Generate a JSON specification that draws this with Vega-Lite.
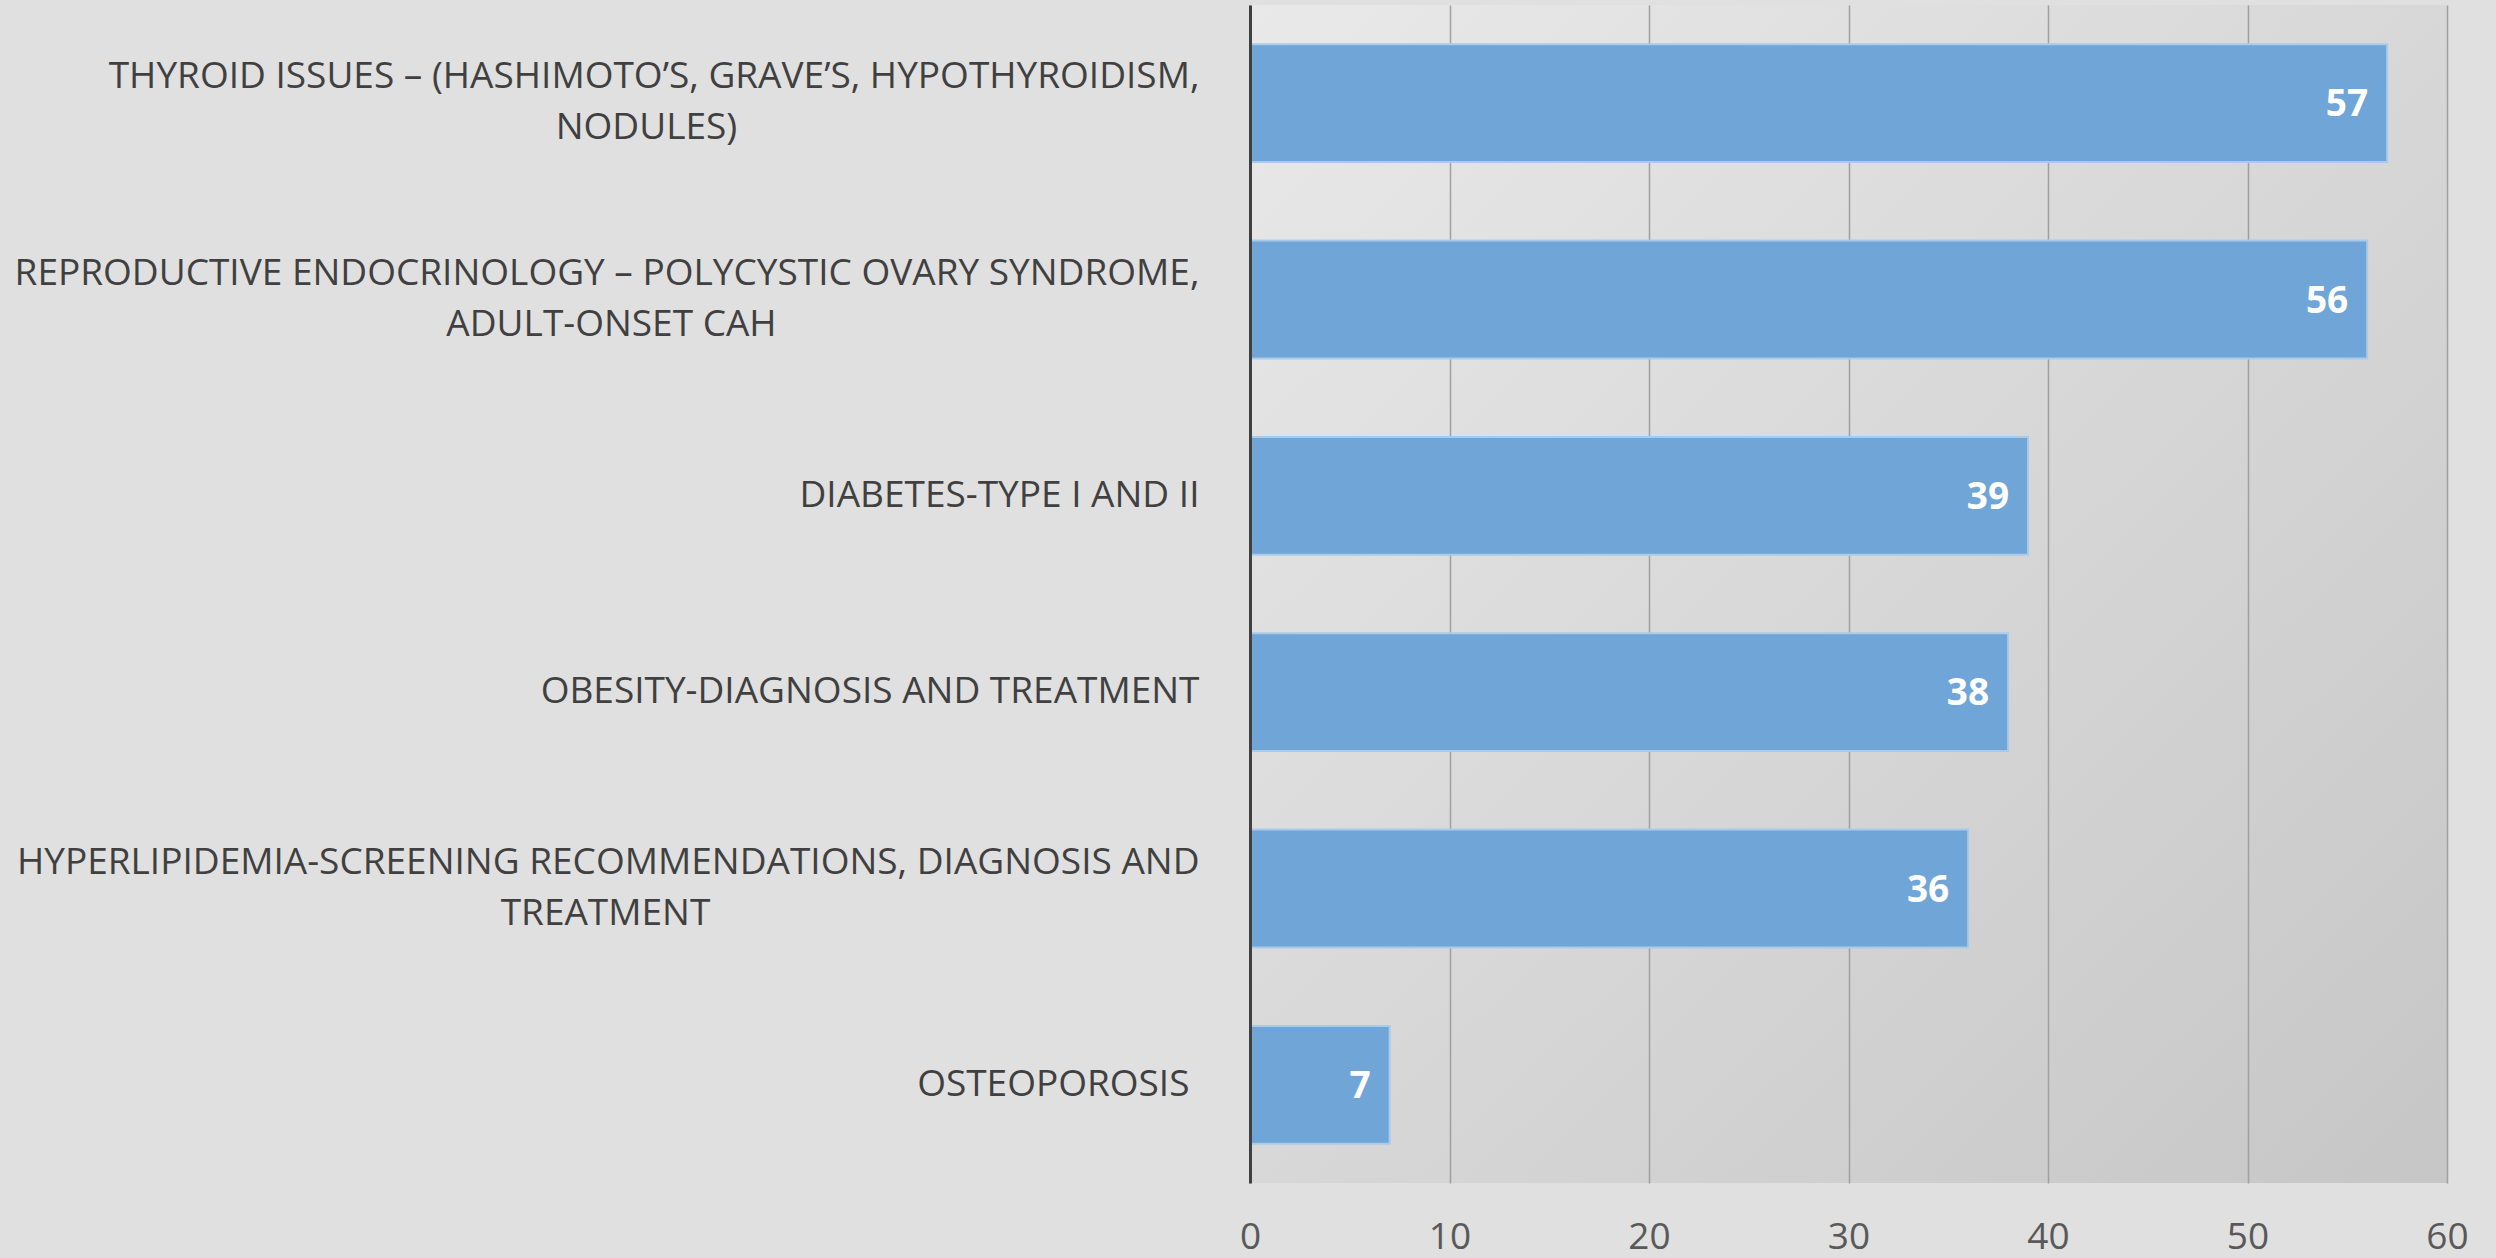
{
  "$schema": "https://vega.github.io/schema/vega-lite/v6.json",
  "autosize": "none",
  "width": 1197,
  "height": 1178,
  "padding": {"left": 1250, "top": 5, "right": 49, "bottom": 75},
  "background": "#e0e0e0",
  "config": {
    "view": {"stroke": null, "fill": {"gradient": "linear", "x1": 0, "y1": 0, "x2": 1, "y2": 1, "stops": [{"offset": 0, "color": "#e9e9e9"}, {"offset": 1, "color": "#c6c6c6"}]}},
    "font": "Open Sans"
  },
  "data": {
    "values": [
      {"topic": "THYROID ISSUES – (HASHIMOTO’S, GRAVE’S, HYPOTHYROIDISM,|NODULES)", "count": 57},
      {"topic": "REPRODUCTIVE ENDOCRINOLOGY – POLYCYSTIC OVARY SYNDROME,|ADULT-ONSET CAH", "count": 56},
      {"topic": "DIABETES-TYPE I AND II", "count": 39},
      {"topic": "OBESITY-DIAGNOSIS AND TREATMENT", "count": 38},
      {"topic": "HYPERLIPIDEMIA-SCREENING RECOMMENDATIONS, DIAGNOSIS AND|TREATMENT", "count": 36},
      {"topic": "OSTEOPOROSIS", "count": 7}
    ]
  },
  "layer": [
    {
      "mark": {"type": "bar", "fill": "#6fa5d7", "stroke": "#a9cbeb", "strokeWidth": 2},
      "encoding": {
        "y": {
          "field": "topic", "type": "nominal", "sort": null,
          "scale": {"paddingInner": 0.4, "paddingOuter": 0.2},
          "axis": {
            "title": null, "orient": "left", "zindex": 1,
            "domain": true, "domainColor": "#404040", "domainWidth": 3,
            "ticks": false, "tickSize": 0, "grid": false,
            "labelExpr": "split(datum.label, '|')[0]",
            "labelFont": "Open Sans", "labelFontSize": 37, "labelColor": "#404040",
            "labelAlign": "right", "labelBaseline": "middle", "labelLimit": 0,
            "labelPadding": {"condition": {"test": "datum.value == 'OSTEOPOROSIS'", "value": 61}, "value": 51},
            "labelOffset": {"condition": {"test": "indexof(datum.value, '|') >= 0", "value": -26}, "value": 0}
          }
        },
        "x": {
          "field": "count", "type": "quantitative",
          "scale": {"domain": [0, 60], "nice": false},
          "axis": {
            "title": null, "values": [0, 10, 20, 30, 40, 50, 60], "zindex": 0,
            "domain": false, "ticks": false, "tickSize": 0, "labelFlush": false,
            "grid": true, "gridColor": "#a0a0a0", "gridWidth": 1.5,
            "labelFont": "Open Sans", "labelFontSize": 37, "labelColor": "#595959",
            "labelPadding": 36
          }
        }
      }
    },
    {
      "mark": {"type": "text", "align": "right", "baseline": "middle", "dx": -19, "dy": 2, "fontSize": 37, "fontWeight": "bold", "font": "Open Sans", "color": "#ffffff"},
      "encoding": {
        "y": {
          "field": "topic", "type": "nominal", "sort": null,
          "axis": {
            "title": null, "orient": "left",
            "domain": false, "ticks": false, "tickSize": 0, "grid": false,
            "labelExpr": "length(split(datum.label, '|')) > 1 ? split(datum.label, '|')[1] : ''",
            "labelFont": "Open Sans", "labelFontSize": 37, "labelColor": "#404040",
            "labelAlign": "center", "labelBaseline": "middle", "labelLimit": 0,
            "labelPadding": {"condition": [{"test": "indexof(datum.value, 'NODULES') >= 0", "value": 604}, {"test": "indexof(datum.value, 'CAH') >= 0", "value": 639}], "value": 645},
            "labelOffset": 25
          }
        },
        "x": {"field": "count", "type": "quantitative"},
        "text": {"field": "count", "type": "quantitative"}
      }
    }
  ],
  "resolve": {"axis": {"y": "independent"}}
}
